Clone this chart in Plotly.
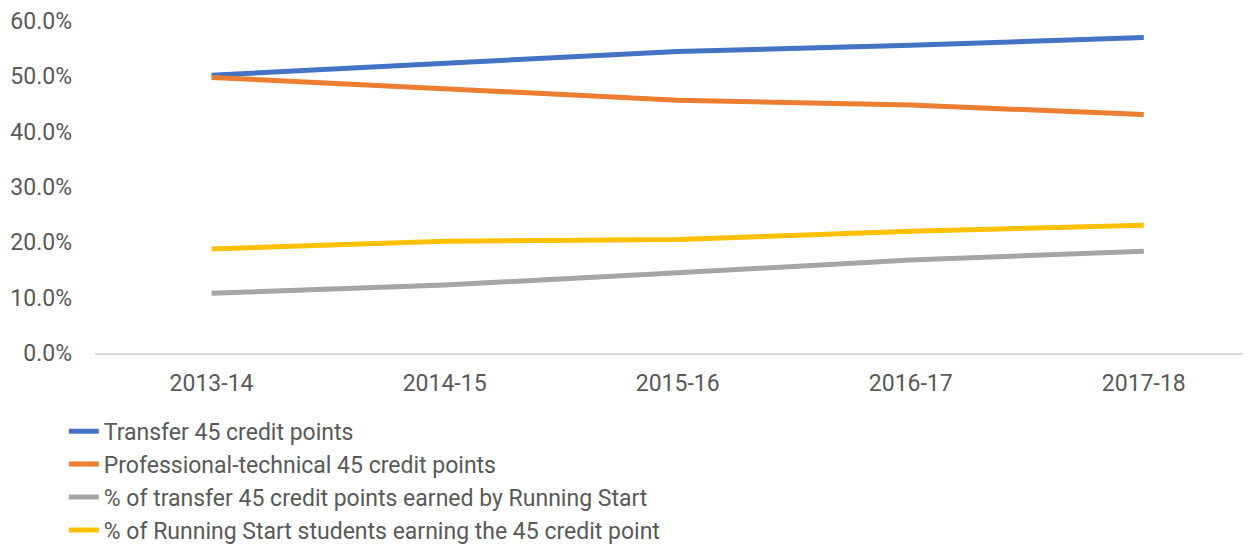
import plotly.graph_objects as go

years = ["2013-14", "2014-15", "2015-16", "2016-17", "2017-18"]
transfer = [0.502, 0.524, 0.545, 0.556, 0.570]
prof_tech = [0.498, 0.478, 0.457, 0.448, 0.431]
pct_transfer_rs = [0.108, 0.123, 0.145, 0.168, 0.184]
pct_rs_students = [0.188, 0.202, 0.205, 0.220, 0.231]

names = [
    "Transfer 45 credit points",
    "Professional-technical 45 credit points",
    "% of transfer 45 credit points earned by Running Start",
    "% of Running Start students earning the 45 credit point",
]
colors = ["#4472C4", "#ED7D31", "#A5A5A5", "#FFC000"]
series = [transfer, prof_tech, pct_transfer_rs, pct_rs_students]

fig = go.Figure()
for i, (n, c, s) in enumerate(zip(names, colors, series)):
    fig.add_trace(go.Scatter(
        x=years, y=s, name=n, mode="lines",
        line=dict(color=c, width=5), legendgroup=str(i),
    ))

font_family = "Roboto, Open Sans, sans-serif"
fig.update_layout(
    width=1243, height=540,
    margin=dict(l=87, r=0, t=13, b=195, autoexpand=False),
    paper_bgcolor="white", plot_bgcolor="white",
    font=dict(family=font_family, size=23, color="#595959"),
    showlegend=True,
    legend=dict(
        orientation="v", x=-0.027, xanchor="left", y=-0.171, yanchor="top",
        traceorder="grouped", tracegroupgap=0,
        font=dict(family=font_family, size=23, color="#595959"),
        itemwidth=30,
    ),
    xaxis=dict(
        type="category", range=[-0.5, 4.46], showgrid=False,
        showline=True, linecolor="#D9D9D9", linewidth=1.5,
        ticks="", ticklabelstandoff=9, automargin=False,
    ),
    yaxis=dict(
        range=[0, 0.6], dtick=0.1, tickformat=".1%", showgrid=False,
        zeroline=False, showline=False, ticks="", ticklabelstandoff=22,
        automargin=False,
    ),
)

fig.write_html("out.html")
